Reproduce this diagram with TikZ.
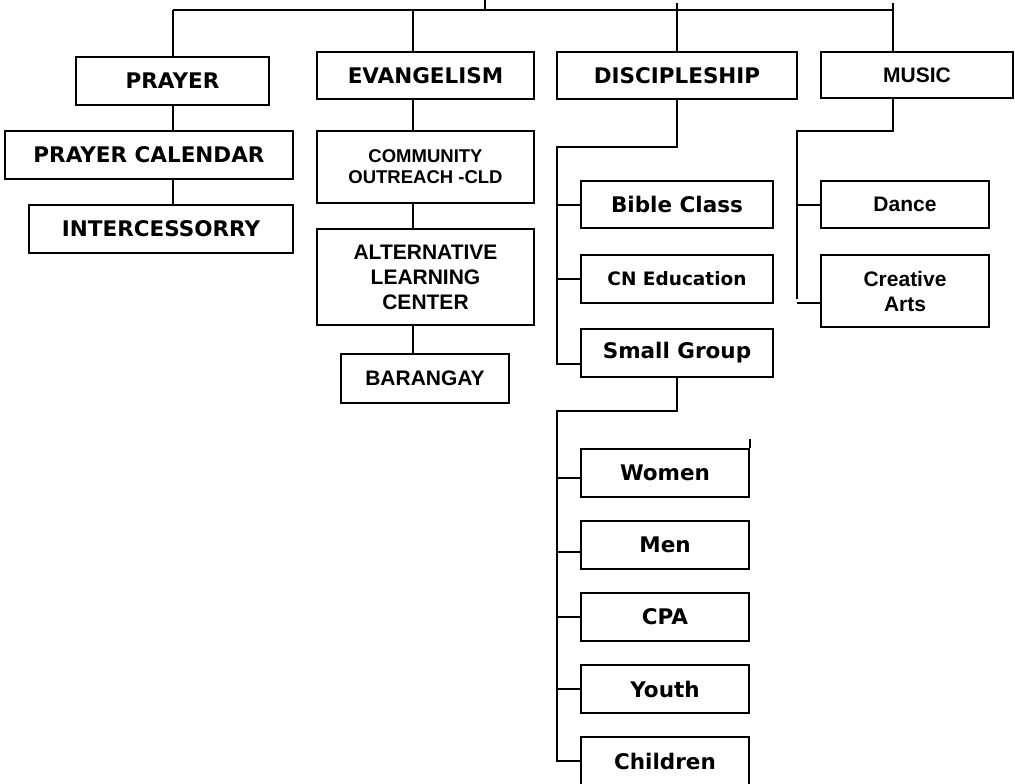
\documentclass[tikz,border=0pt]{standalone}
\usepackage{fontspec}
\newfontfamily\vfont{DejaVu Sans}
\newfontfamily\afont{Liberation Sans}
\begin{document}
\begin{tikzpicture}[x=1pt,y=-1pt,line width=1.5pt,
  box/.style={draw, rectangle, inner sep=0pt, align=center, text=black},
  vb/.style={font=\vfont\bfseries\fontsize{21.5}{25}\selectfont},
  vbs/.style={font=\vfont\bfseries\fontsize{18.5}{22}\selectfont},
  ab/.style={font=\afont\bfseries\fontsize{21}{25}\selectfont},
  abs/.style={font=\afont\bfseries\fontsize{18.5}{21}\selectfont}]
\useasboundingbox (0,0) rectangle (1015,784);
\clip (0,0) rectangle (1015,784);
% boxes
\node[box,vb,minimum width=193,minimum height=48] (prayer) at (172.5,81) {PRAYER};
\node[box,vb,minimum width=217,minimum height=47] (evang) at (425.5,75.5) {EVANGELISM};
\node[box,vb,minimum width=240,minimum height=47] (disc) at (677,75.5) {DISCIPLESHIP};
\node[box,ab,minimum width=192,minimum height=46] (music) at (917,75) {MUSIC};
\node[box,vb,minimum width=288,minimum height=48] (pcal) at (149,155) {PRAYER CALENDAR};
\node[box,vb,minimum width=264,minimum height=48] (inter) at (161,229) {INTERCESSORRY};
\node[box,abs,minimum width=217,minimum height=72] (comm) at (425.5,167) {COMMUNITY\\OUTREACH -CLD};
\node[box,ab,minimum width=217,minimum height=96] (alc) at (425.5,277) {ALTERNATIVE\\LEARNING\\CENTER};
\node[box,ab,minimum width=168,minimum height=49] (bar) at (425,378.5) {BARANGAY};
\node[box,vb,minimum width=192,minimum height=47] (bible) at (677,204.5) {Bible Class};
\node[box,vbs,minimum width=192,minimum height=48] (cne) at (677,279) {CN Education};
\node[box,vb,minimum width=192,minimum height=48] (small) at (677,353) {Small Group};
\node[box,ab,minimum width=168,minimum height=47] (dance) at (905,204.5) {Dance};
\node[box,ab,minimum width=168,minimum height=72] (creat) at (905,291) {Creative\\Arts};
\node[box,vb,minimum width=168,minimum height=48] (women) at (665,473) {Women};
\node[box,vb,minimum width=168,minimum height=48] (men) at (665,545) {Men};
\node[box,vb,minimum width=168,minimum height=48] (cpa) at (665,617) {CPA};
\node[box,vb,minimum width=168,minimum height=48] (youth) at (665,689) {Youth};
\node[box,vb,minimum width=168,minimum height=48] (children) at (665,761) {Children};
% coordinates
\coordinate (root) at (485,0);
\coordinate (busL) at (173,10);
\coordinate (busR) at (893,10);
\coordinate (px) at (173,0);
\coordinate (ex) at (413,0);
\coordinate (mx) at (893,0);
\coordinate (d1) at (557,147);
\coordinate (sgj) at (581,364);
\coordinate (s1) at (557,411);
\coordinate (m1) at (797,131);
\coordinate (m2) at (797,299);
\coordinate (m3) at (797,303);
% top bus
\draw (root) -- (root |- busL);
\draw (busL) -- (busR);
\draw (disc.north |- 0,3) -- (disc.north |- busL);
\draw (mx |- 0,3) -- (busR);
\draw (busL) -- (px |- prayer.north);
\draw (ex |- busL) -- (ex |- evang.north);
\draw (disc.north |- busL) -- (disc.north);
\draw (busR) -- (mx |- music.north);
% prayer column
\draw (px |- prayer.south) -- (px |- pcal.north);
\draw (px |- pcal.south) -- (px |- inter.north);
% evangelism column
\draw (ex |- evang.south) -- (ex |- comm.north);
\draw (ex |- comm.south) -- (ex |- alc.north);
\draw (ex |- alc.south) -- (ex |- bar.north);
% discipleship
\draw (disc.south) |- (d1) |- (sgj);
\draw ([yshift=-0.5pt]d1 |- bible.west) -- ([yshift=-0.5pt]bible.west);
\draw (d1 |- cne.west) -- (cne.west);
% small group
\draw (small.south) |- (s1) |- (children.west);
\draw (s1 |- women.west) ++(0,5) -- ([yshift=-5pt]women.west);
\draw (s1 |- men.west) ++(0,7) -- ([yshift=-7pt]men.west);
\draw (s1 |- cpa.west) -- (cpa.west);
\draw (s1 |- youth.west) -- (youth.west);
\draw (women.north east) -- ++(0,-9);
% music
\draw (mx |- music.south) |- (m1) -- (m2);
\draw ([yshift=-0.5pt]m1 |- dance.west) -- ([yshift=-0.5pt]dance.west);
\draw (m3) -- (m3 -| creat.west);
\end{tikzpicture}
\end{document}
